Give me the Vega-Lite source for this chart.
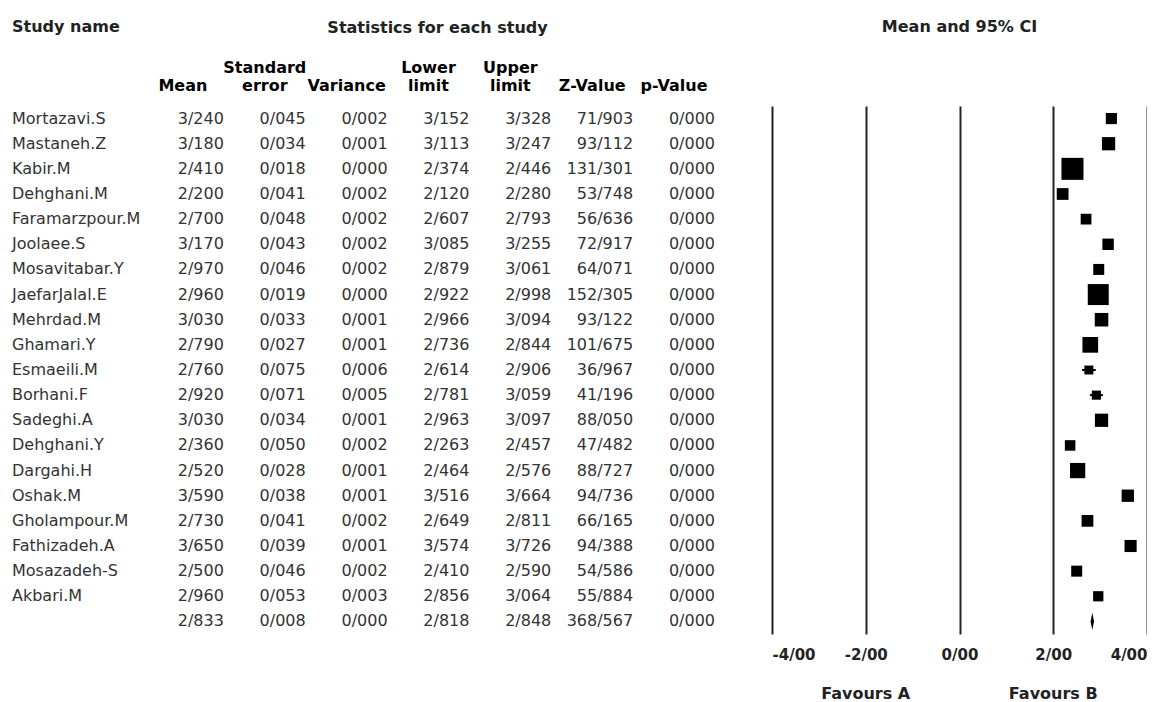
{
  "$schema": "https://vega.github.io/schema/vega-lite/v6.json",
  "autosize": {"type": "pad"},
  "padding": {"left": 12, "top": 19, "right": 0, "bottom": 0},
  "background": "white",
  "data": {
    "values": [
      {"Study": "Mortazavi.S", "Mean": 3.240, "Standard error": 0.045, "Variance": 0.002, "Lower limit": 3.152, "Upper limit": 3.328, "Z-Value": 71.903, "p-Value": 0.000},
      {"Study": "Mastaneh.Z", "Mean": 3.180, "Standard error": 0.034, "Variance": 0.001, "Lower limit": 3.113, "Upper limit": 3.247, "Z-Value": 93.112, "p-Value": 0.000},
      {"Study": "Kabir.M", "Mean": 2.410, "Standard error": 0.018, "Variance": 0.000, "Lower limit": 2.374, "Upper limit": 2.446, "Z-Value": 131.301, "p-Value": 0.000},
      {"Study": "Dehghani.M", "Mean": 2.200, "Standard error": 0.041, "Variance": 0.002, "Lower limit": 2.120, "Upper limit": 2.280, "Z-Value": 53.748, "p-Value": 0.000},
      {"Study": "Faramarzpour.M", "Mean": 2.700, "Standard error": 0.048, "Variance": 0.002, "Lower limit": 2.607, "Upper limit": 2.793, "Z-Value": 56.636, "p-Value": 0.000},
      {"Study": "Joolaee.S", "Mean": 3.170, "Standard error": 0.043, "Variance": 0.002, "Lower limit": 3.085, "Upper limit": 3.255, "Z-Value": 72.917, "p-Value": 0.000},
      {"Study": "Mosavitabar.Y", "Mean": 2.970, "Standard error": 0.046, "Variance": 0.002, "Lower limit": 2.879, "Upper limit": 3.061, "Z-Value": 64.071, "p-Value": 0.000},
      {"Study": "JaefarJalal.E", "Mean": 2.960, "Standard error": 0.019, "Variance": 0.000, "Lower limit": 2.922, "Upper limit": 2.998, "Z-Value": 152.305, "p-Value": 0.000},
      {"Study": "Mehrdad.M", "Mean": 3.030, "Standard error": 0.033, "Variance": 0.001, "Lower limit": 2.966, "Upper limit": 3.094, "Z-Value": 93.122, "p-Value": 0.000},
      {"Study": "Ghamari.Y", "Mean": 2.790, "Standard error": 0.027, "Variance": 0.001, "Lower limit": 2.736, "Upper limit": 2.844, "Z-Value": 101.675, "p-Value": 0.000},
      {"Study": "Esmaeili.M", "Mean": 2.760, "Standard error": 0.075, "Variance": 0.006, "Lower limit": 2.614, "Upper limit": 2.906, "Z-Value": 36.967, "p-Value": 0.000},
      {"Study": "Borhani.F", "Mean": 2.920, "Standard error": 0.071, "Variance": 0.005, "Lower limit": 2.781, "Upper limit": 3.059, "Z-Value": 41.196, "p-Value": 0.000},
      {"Study": "Sadeghi.A", "Mean": 3.030, "Standard error": 0.034, "Variance": 0.001, "Lower limit": 2.963, "Upper limit": 3.097, "Z-Value": 88.050, "p-Value": 0.000},
      {"Study": "Dehghani.Y", "Mean": 2.360, "Standard error": 0.050, "Variance": 0.002, "Lower limit": 2.263, "Upper limit": 2.457, "Z-Value": 47.482, "p-Value": 0.000},
      {"Study": "Dargahi.H", "Mean": 2.520, "Standard error": 0.028, "Variance": 0.001, "Lower limit": 2.464, "Upper limit": 2.576, "Z-Value": 88.727, "p-Value": 0.000},
      {"Study": "Oshak.M", "Mean": 3.590, "Standard error": 0.038, "Variance": 0.001, "Lower limit": 3.516, "Upper limit": 3.664, "Z-Value": 94.736, "p-Value": 0.000},
      {"Study": "Gholampour.M", "Mean": 2.730, "Standard error": 0.041, "Variance": 0.002, "Lower limit": 2.649, "Upper limit": 2.811, "Z-Value": 66.165, "p-Value": 0.000},
      {"Study": "Fathizadeh.A", "Mean": 3.650, "Standard error": 0.039, "Variance": 0.001, "Lower limit": 3.574, "Upper limit": 3.726, "Z-Value": 94.388, "p-Value": 0.000},
      {"Study": "Mosazadeh-S", "Mean": 2.500, "Standard error": 0.046, "Variance": 0.002, "Lower limit": 2.410, "Upper limit": 2.590, "Z-Value": 54.586, "p-Value": 0.000},
      {"Study": "Akbari.M", "Mean": 2.960, "Standard error": 0.053, "Variance": 0.003, "Lower limit": 2.856, "Upper limit": 3.064, "Z-Value": 55.884, "p-Value": 0.000},
      {"Study": "", "Mean": 2.833, "Standard error": 0.008, "Variance": 0.000, "Lower limit": 2.818, "Upper limit": 2.848, "Z-Value": 368.567, "p-Value": 0.000}
    ]
  },
  "bounds": "flush",
  "spacing": 57,
  "hconcat": [
    {
      "width": 73,
      "height": 528,
      "title": {"text": "Study name", "anchor": "start", "offset": 71},
      "mark": {"type": "text", "align": "left", "baseline": "middle", "fontSize": 16, "color": "#333333"},
      "encoding": {
        "x": {"datum": "Study name", "type": "nominal", "bandPosition": 0, "axis": null, "scale": {"type": "band", "paddingInner": 0, "paddingOuter": 0}},
        "y": {"field": "Study", "type": "nominal", "sort": null, "axis": null, "scale": {"type": "band", "paddingInner": 0, "paddingOuter": 0}},
        "text": {"field": "Study", "type": "nominal"}
      }
    },
    {
      "width": 573,
      "height": 528,
      "title": {"text": "Statistics for each study", "offset": 23, "dx": 9},
      "transform": [
        {"fold": ["Mean", "Standard error", "Variance", "Lower limit", "Upper limit", "Z-Value", "p-Value"], "as": ["key", "value"]}
      ],
      "mark": {"type": "text", "align": "right", "baseline": "middle", "fontSize": 16, "color": "#333333"},
      "encoding": {
        "x": {
          "field": "key", "type": "nominal", "bandPosition": 1,
          "scale": {"type": "band", "domain": ["Mean", "Standard error", "Variance", "Lower limit", "Upper limit", "Z-Value", "p-Value"], "paddingInner": 0, "paddingOuter": 0},
          "axis": {"orient": "top", "title": null, "labelExpr": "indexof(datum.label, ' ') > 0 ? split(datum.label, ' ') : ['', datum.label]", "labelAngle": 0, "labelFontWeight": "bold", "labelFontSize": 16, "labelLineHeight": 18, "labelPadding": 31, "labelColor": "black", "ticks": false, "domain": false, "grid": false}
        },
        "y": {"field": "Study", "type": "nominal", "sort": null, "axis": null, "scale": {"type": "band", "paddingInner": 0, "paddingOuter": 0}},
        "text": {"field": "value", "type": "quantitative", "format": ".3f"}
      }
    },
    {
      "bounds": "flush",
      "spacing": 50,
      "vconcat": [
        {
          "width": 375,
          "height": 528,
          "title": {"text": "Mean and 95% CI", "offset": 71},
          "encoding": {
            "y": {"field": "Study", "type": "nominal", "sort": null, "axis": null, "scale": {"type": "band", "paddingInner": 0, "paddingOuter": 0}}
          },
          "layer": [
            {
              "mark": {"type": "rule", "color": "black", "strokeWidth": 2},
              "encoding": {
                "x": {
                  "field": "Lower limit", "type": "quantitative",
                  "scale": {"domain": [-4, 4], "nice": false, "zero": false},
                  "axis": {"title": null, "values": [-4, -2, 0, 2, 4], "format": ".2f", "grid": true, "gridColor": "#222222", "gridWidth": 2, "gridOpacity": 1, "domain": false, "ticks": false, "labelFontWeight": "bold", "labelFontSize": 15, "labelColor": "#222222", "labelPadding": 13}
                },
                "x2": {"field": "Upper limit"}
              }
            },
            {
              "transform": [{"filter": "datum.Study !== ''"}],
              "mark": {"type": "point", "shape": "square", "filled": true, "color": "black", "opacity": 1},
              "encoding": {
                "x": {"field": "Mean", "type": "quantitative"},
                "size": {"field": "Standard error", "type": "quantitative", "legend": null, "scale": {"type": "pow", "exponent": -2, "zero": false, "domain": [0.018, 0.075], "range": [484, 80]}}
              }
            },
            {
              "transform": [{"filter": "datum.Study === ''"}],
              "mark": {"type": "point", "shape": "M0,-1L0.2,0L0,1L-0.2,0Z", "filled": true, "color": "black", "opacity": 1, "size": 300},
              "encoding": {
                "x": {"field": "Mean", "type": "quantitative"}
              }
            }
          ]
        },
        {
          "width": 375,
          "height": 20,
          "data": {"values": [{"label": "Favours A", "pos": -2}, {"label": "Favours B", "pos": 2}]},
          "mark": {"type": "text", "fontWeight": "bold", "fontSize": 16, "baseline": "middle", "color": "#222222"},
          "encoding": {
            "x": {"field": "pos", "type": "quantitative", "scale": {"domain": [-4, 4], "nice": false, "zero": false}, "axis": null},
            "text": {"field": "label", "type": "nominal"}
          }
        }
      ]
    }
  ],
  "config": {
    "locale": {"number": {"decimal": "/", "thousands": ",", "grouping": [3], "currency": ["", ""], "minus": "-"}},
    "font": "DejaVu Sans",
    "view": {"stroke": null},
    "title": {"font": "DejaVu Sans", "fontSize": 16, "fontWeight": "bold", "color": "#222222"},
    "axis": {"labelFont": "DejaVu Sans"},
    "text": {"font": "DejaVu Sans"}
  }
}
